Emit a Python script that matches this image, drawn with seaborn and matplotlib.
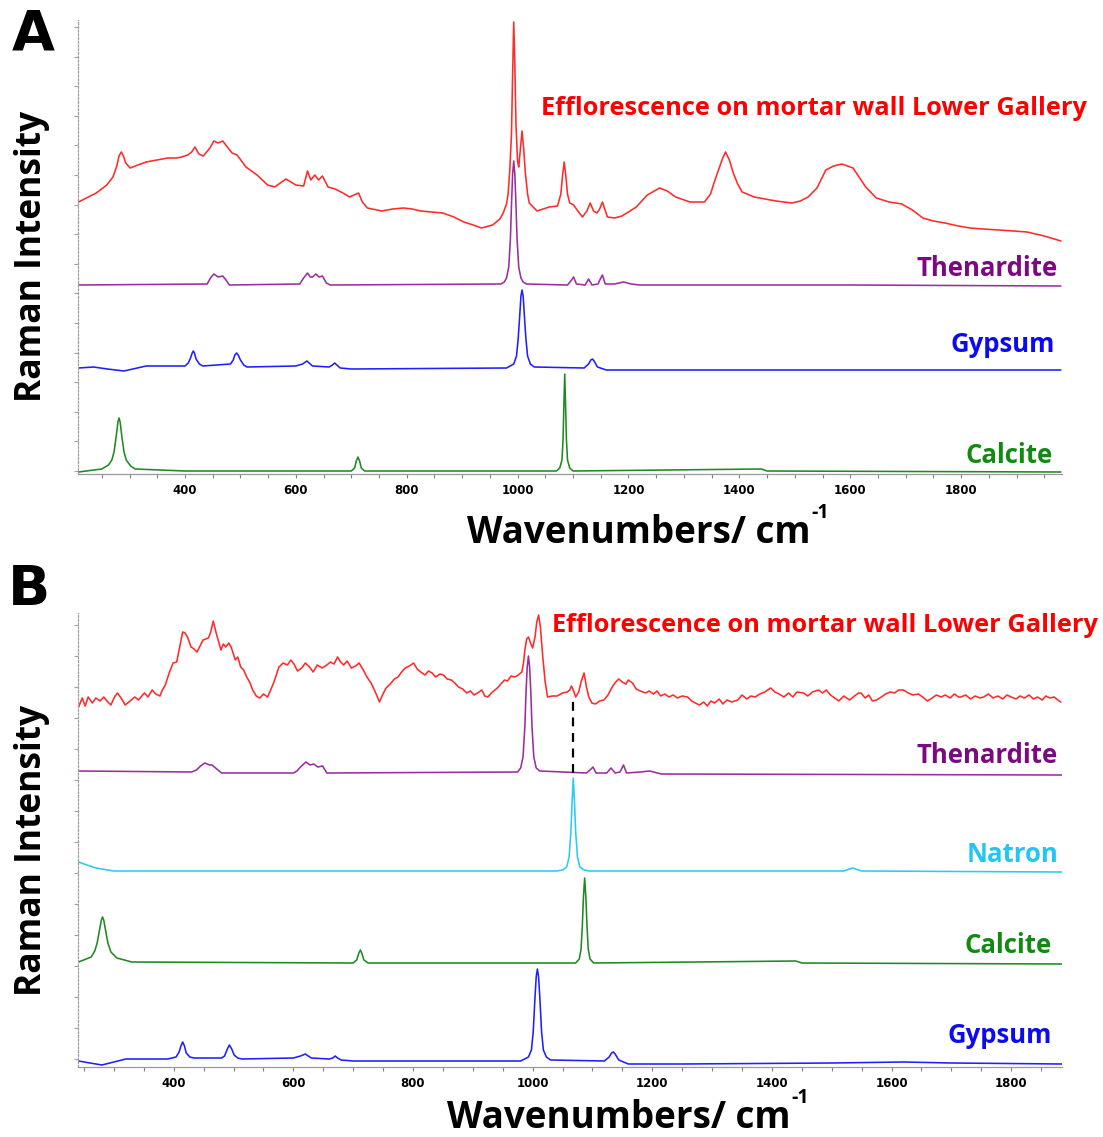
import numpy as np
import pandas as pd
import matplotlib
matplotlib.use("Agg")
import matplotlib.pyplot as plt
from matplotlib.ticker import MultipleLocator, FixedLocator, NullFormatter
import seaborn as sns

# ---------------- DATA (wavenumber in cm-1, intensity in arbitrary units, stacked) -------------
# Panel A
A_RED_X = [208, 240, 259, 270, 277, 281, 285, 289, 293, 301, 315, 330, 350, 369, 385, 394, 405, 412, 418,
           425, 433, 445, 452, 460, 468, 478, 485, 494, 510, 530, 549, 562, 572, 582, 591, 600, 614, 621,
           627, 634, 641, 648, 658, 671, 685, 697, 705, 713, 720, 729, 755, 775, 794, 810, 825, 845, 865,
           885, 903, 920, 935, 955, 968, 974, 980, 983, 986, 989, 991, 993, 995, 997, 1000, 1002, 1005,
           1008, 1011, 1014, 1018, 1021, 1035, 1057, 1072, 1078, 1081, 1084, 1087, 1090, 1094, 1101,
           1110, 1117, 1125, 1131, 1137, 1143, 1148, 1153, 1162, 1175, 1188, 1200, 1214, 1234, 1256,
           1270, 1285, 1311, 1337, 1348, 1356, 1365, 1370, 1375, 1382, 1389, 1397, 1405, 1427, 1446,
           1466, 1495, 1510, 1524, 1540, 1556, 1570, 1585, 1605, 1617, 1628, 1647, 1670, 1693, 1712,
           1731, 1750, 1771, 1795, 1816, 1840, 1868, 1895, 1919, 1950, 1980]
A_RED_Y = [272, 281, 289, 297, 308, 318, 322, 318, 311, 306, 309, 312, 314, 316, 316, 317, 319, 322, 327,
           320, 318, 326, 333, 331, 333, 326, 321, 319, 307, 299, 289, 287, 291, 295, 292, 289, 288, 303,
           294, 299, 294, 298, 287, 285, 281, 277, 279, 281, 272, 266, 263, 265, 266, 265, 263, 262, 261,
           257, 252, 249, 246, 249, 255, 261, 270, 281, 305, 341, 400, 452, 410, 350, 312, 307, 325,
           343, 325, 301, 280, 271, 263, 267, 268, 280, 298, 312, 298, 280, 271, 269,
           262, 257, 263, 271, 263, 261, 265, 272, 257, 256, 258, 262, 267, 279, 286,
           283, 277, 272, 272, 280, 294, 308, 316, 322, 314, 301, 290, 282, 277, 275,
           273, 271, 273, 277, 286, 304, 308, 310, 306, 296, 287, 276, 272, 270, 264,
           256, 253, 251, 248, 246, 245, 244, 243, 242, 238, 233]

A_THEN_X = [208, 440, 446, 452, 460, 468, 474, 480, 607, 614, 621, 626, 630, 636, 642, 648, 655, 662, 970,
            976, 980, 984, 987, 989, 991, 993, 995, 997, 999, 1002, 1006, 1010, 1016, 1090, 1096, 1101,
            1106, 1122, 1128, 1134, 1145, 1150, 1153, 1158, 1175, 1191, 1205, 1220, 1600, 1980]
A_THEN_Y = [189, 190, 196, 200, 197, 198, 194, 189, 190, 196, 201, 197, 197, 200, 197, 198, 191, 189, 190,
            192, 196, 207, 235, 270, 300, 313, 300, 270, 235, 207, 196, 192, 190, 189, 193, 197,
            190, 189, 195, 189, 190, 196, 199, 190, 190, 192, 190, 189, 189, 188]

A_GYP_X = [208, 235, 260, 290, 330, 400, 406, 410, 413, 415, 417, 420, 426, 432, 482, 487, 490, 493, 496,
           500, 506, 512, 600, 612, 620, 630, 660, 666, 670, 674, 680, 700, 980, 993, 998, 1001, 1004,
           1006, 1008, 1010, 1012, 1015, 1018, 1023, 1030, 1120, 1128, 1132, 1135, 1138, 1144, 1160,
           1500, 1980]
A_GYP_Y = [106, 107, 105, 103, 108, 108, 111, 116, 121, 123, 121, 115, 110, 108, 110, 114, 119, 121, 119,
           114, 109, 107, 108, 110, 113, 108, 107, 109, 111, 109, 106, 105, 106, 110, 118, 135, 160,
           178, 184, 178, 160, 135, 118, 110, 107, 106, 110, 114, 115, 113, 107, 104,
           104, 104]

A_CAL_X = [208, 250, 262, 268, 272, 276, 279, 281, 283, 286, 290, 294, 302, 310, 400, 700, 706, 709, 712,
           715, 718, 724, 1070, 1076, 1080, 1082, 1083.5, 1085, 1086.5, 1088, 1090, 1094, 1100, 1440,
           1450, 1980]
A_CAL_Y = [2, 5, 9, 14, 22, 38, 52, 56, 52, 38, 22, 14, 8, 5, 3, 3, 6, 13, 17,
           13, 6, 3, 3, 6, 14, 35, 70, 100, 70, 35, 14, 6, 3, 5,
           3, 2]

# Panel B
B_RED_X = [241, 247, 252, 257, 264, 270, 277, 283, 290, 295, 301, 306, 312, 319, 325, 335, 341, 351, 357,
           364, 370, 377, 381, 386, 393, 399, 405, 410, 415, 419, 423, 429, 434, 439, 444, 449, 458, 462,
           466, 471, 479, 483, 487, 492, 496, 503, 507, 512, 517, 522, 527, 532, 538, 544, 550, 557, 567,
           576, 583, 590, 596, 601, 607, 614, 620, 627, 633, 640, 648, 656, 662, 668, 674, 679, 684, 690,
           697, 704, 710, 717, 723, 730, 737, 744, 749, 755, 762, 769, 775, 781, 787, 794, 801, 807, 813,
           820, 826, 832, 838, 845, 851, 857, 864, 870, 876, 883, 890, 896, 902, 908, 915, 920, 925, 933,
           941, 947, 953, 958, 964, 970, 976, 982, 985, 987, 990, 993, 996, 1000, 1004, 1007, 1010, 1013,
           1017, 1021, 1025, 1033, 1041, 1050, 1058, 1062, 1065, 1068, 1072, 1077, 1081, 1086, 1090, 1094,
           1099, 1105, 1112, 1119, 1126, 1133, 1139, 1144, 1150, 1156, 1160, 1167, 1173, 1180, 1189, 1195,
           1202, 1208, 1214, 1221, 1228, 1235, 1242, 1250, 1259, 1266, 1272, 1279, 1286, 1292, 1298, 1304,
           1312, 1318, 1325, 1333, 1343, 1350, 1358, 1365, 1372, 1380, 1388, 1398, 1405, 1412, 1420, 1428,
           1435, 1442, 1453, 1460, 1468, 1478, 1485, 1491, 1498, 1505, 1512, 1520, 1530, 1538, 1545, 1549,
           1556, 1562, 1568, 1575, 1583, 1590, 1598, 1605, 1612, 1620, 1628, 1636, 1645, 1652, 1660, 1668,
           1675, 1683, 1690, 1698, 1705, 1712, 1716, 1724, 1732, 1740, 1748, 1754, 1762, 1770, 1778, 1786,
           1793, 1800, 1808, 1815, 1822, 1830, 1837, 1844, 1852, 1858, 1865, 1872, 1878, 1883]
B_RED_Y = [360, 369, 361, 370, 364, 369, 366, 370, 365, 362, 370, 374, 369, 362, 365, 370, 367, 374, 370,
           377, 373, 371, 377, 382, 395, 404, 405, 420, 435, 434, 430, 420, 418, 415, 421, 427, 429, 435,
           446, 434, 417, 423, 420, 424, 420, 407, 410, 400, 397, 390, 385, 377, 371, 369, 373, 370, 384,
           400, 404, 402, 407, 403, 396, 399, 404, 400, 395, 402, 399, 402, 405, 403, 410, 405, 402, 406,
           399, 401, 404, 397, 390, 384, 375, 365, 372, 379, 383, 388, 390, 395, 399, 401, 404, 398, 395,
           392, 396, 394, 390, 393, 392, 388, 387, 384, 380, 378, 374, 376, 372, 374, 377, 371, 370, 375,
           379, 383, 387, 386, 391, 390, 392, 395, 405, 417, 428, 430, 425, 419, 430, 445, 452, 440,
           410, 385, 370, 371, 371, 374, 375, 377, 381, 377, 370, 375, 385, 394, 380, 370,
           364, 363, 366, 367, 372, 380, 385, 388, 385, 383, 387, 384, 378, 376, 374, 376,
           373, 376, 371, 373, 370, 372, 369, 371, 370, 366, 364, 362, 365, 361, 366, 364,
           368, 363, 367, 365, 367, 372, 368, 371, 370, 373, 375, 379, 375, 373, 370, 374,
           370, 375, 374, 371, 375, 377, 374, 377, 372, 369, 366, 371, 367, 371, 374, 374,
           369, 372, 366, 367, 370, 373, 375, 374, 377, 377, 374, 372, 373, 370, 366, 369,
           372, 370, 372, 369, 373, 370, 370, 372, 368, 371, 369, 370, 373, 369, 371, 368,
           372, 370, 368, 371, 369, 372, 368, 370, 367, 371, 369, 370, 367, 365]

B_THEN_X = [241, 430, 438, 445, 452, 460, 464, 472, 480, 600, 606, 612, 621, 628, 634, 641, 649, 656, 975,
            980, 984, 987, 989, 991, 993, 995, 997, 999, 1002, 1006, 1012, 1090, 1096, 1101, 1106, 1124,
            1131, 1138, 1146, 1152, 1157, 1180, 1196, 1215, 1885]
B_THEN_Y = [296, 295, 297, 301, 304, 302, 302, 298, 294, 294, 296, 300, 305, 302, 303, 300, 301, 294, 295,
            299, 310, 340, 375, 400, 411, 400, 375, 340, 310, 299, 296, 294, 297, 300, 294, 294,
            299, 294, 295, 302, 294, 295, 296, 293, 292]

B_NAT_X = [241, 250, 260, 270, 280, 300, 320, 500, 1040, 1050, 1057, 1061, 1064, 1066, 1068, 1070, 1072,
           1075, 1079, 1086, 1095, 1520, 1535, 1550, 1885]
B_NAT_Y = [205, 203, 201, 199, 198, 196, 196, 196, 196, 197, 200, 210, 235, 265, 289, 265, 235,
           210, 200, 197, 196, 196, 199, 196, 195]

B_CAL_X = [241, 262, 268, 272, 276, 279, 281, 283, 286, 290, 295, 305, 330, 700, 706, 709, 712, 715, 718,
           725, 1072, 1078, 1081, 1083, 1085, 1087, 1089, 1091, 1093, 1096, 1102, 1440, 1450, 1885]
B_CAL_Y = [105, 110, 116, 124, 137, 147, 150, 147, 137, 124, 115, 109, 105, 104, 107, 113, 117, 113, 107,
           104, 104, 108, 118, 140, 170, 189, 170, 140, 118, 108, 104, 106, 104, 103]

B_GYP_X = [241, 260, 280, 320, 390, 404, 409, 412, 415, 418, 421, 427, 434, 480, 485, 489, 493, 497, 501,
           507, 514, 600, 612, 620, 630, 660, 666, 670, 674, 680, 700, 980, 993, 998, 1001, 1004, 1006,
           1008, 1010, 1012, 1015, 1018, 1023, 1030, 1120, 1128, 1132, 1135, 1138, 1144, 1160, 1250,
           1500, 1620, 1700, 1885]
B_GYP_Y = [6, 4, 2, 8, 8, 10, 15, 21, 25, 21, 14, 10, 9, 9, 11, 17, 22, 18, 12,
           9, 8, 9, 11, 13, 9, 8, 9, 11, 9, 7, 6, 6, 10, 17, 35, 70, 90,
           98, 90, 70, 35, 17, 10, 7, 6, 10, 14, 15, 13, 7, 3, 3,
           4, 5, 4, 3]

B_MARK_X = 1067            # dashed marker (natron band vs efflorescence)
B_MARK_Y = (294, 368)

LABEL_RED = "Efflorescence on mortar wall Lower Gallery"
TICKS = [400, 600, 800, 1000, 1200, 1400, 1600, 1800]

# ---------------- STYLE ----------------
sns.set_theme(style="white")
plt.rcParams['font.family'] = ['Open Sans', 'DejaVu Sans']
plt.rcParams['text.color'] = 'black'
plt.rcParams['xtick.labelcolor'] = 'black'

C_RED, C_RED_T = "#ff2a2a", "#ff0000"
C_THEN, C_THEN_T = "#9a2e9e", "#7b0a82"
C_GYP, C_GYP_T = "#1f1fff", "#0b0bf0"
C_CAL, C_CAL_T = "#1f8a1f", "#118a11"
C_NAT, C_NAT_T = "#2ccaf2", "#22c6f0"

W, H = 1103, 1137
fig = plt.figure(figsize=(W / 100, H / 100), dpi=100)


def ax_rect(left, top, right, bottom):
    return [left / W, 1 - bottom / H, (right - left) / W, (bottom - top) / H]


axA = fig.add_axes(ax_rect(78, 20, 1062, 474))
axB = fig.add_axes(ax_rect(78, 613, 1062, 1067))


def draw(ax, x, y, c):
    sns.lineplot(x=x, y=y, ax=ax, color=c, linewidth=1.15, estimator=None, sort=False)


draw(axA, A_RED_X, A_RED_Y, C_RED)
draw(axA, A_THEN_X, A_THEN_Y, C_THEN)
draw(axA, A_GYP_X, A_GYP_Y, C_GYP)
draw(axA, A_CAL_X, A_CAL_Y, C_CAL)

draw(axB, B_RED_X, B_RED_Y, C_RED)
draw(axB, B_THEN_X, B_THEN_Y, C_THEN)
draw(axB, B_NAT_X, B_NAT_Y, C_NAT)
draw(axB, B_CAL_X, B_CAL_Y, C_CAL)
draw(axB, B_GYP_X, B_GYP_Y, C_GYP)
axB.vlines(B_MARK_X, B_MARK_Y[0], B_MARK_Y[1], colors="black", linestyles=(0, (4, 3)), linewidth=1.6)

tick_font = dict(family=['Liberation Sans Narrow', 'DejaVu Sans'], weight='bold', size=8.5)
for ax, xl, yt in [(axA, (207, 1982), np.arange(3, 454, 29.6)),
                   (axB, (240, 1885), np.arange(8, 454, 31.0))]:
    ax.set_xlim(*xl)
    ax.set_ylim(0, 454)
    ax.set_xlabel("")
    ax.set_ylabel("")
    for s in ['top', 'right']:
        ax.spines[s].set_visible(False)
    ax.spines['bottom'].set_color('#9a9a9a')
    ax.spines['bottom'].set_linewidth(0.9)
    ax.spines['left'].set_color('#a0a0a0')
    ax.spines['left'].set_linewidth(0.9)
    ax.spines['left'].set_linestyle((0, (1.5, 1.5)))
    ax.xaxis.set_major_locator(FixedLocator(TICKS))
    ax.xaxis.set_minor_locator(MultipleLocator(50))
    ax.set_xticklabels([str(t) for t in TICKS], fontdict=tick_font, color='black')
    ax.yaxis.set_major_locator(FixedLocator(yt))
    ax.yaxis.set_major_formatter(NullFormatter())
    ax.tick_params(axis='x', which='both', direction='out', length=3, width=0.8, color='#808080',
                   pad=4, bottom=True)
    ax.tick_params(axis='y', which='both', direction='out', length=3, width=0.8, color='#a0a0a0',
                   left=True)
    ax.set_facecolor('none')

# labels
big = 18.5
red_sz = 18.3
lab = dict(ha='right', va='baseline', fontweight='bold')
axA.text(1.025, 0.791, LABEL_RED, transform=axA.transAxes, color=C_RED_T, fontsize=red_sz, **lab)
axA.text(0.996, 0.436, "Thenardite", transform=axA.transAxes, color=C_THEN_T, fontsize=big, **lab)
axA.text(0.993, 0.269, "Gypsum", transform=axA.transAxes, color=C_GYP_T, fontsize=big, **lab)
axA.text(0.991, 0.024, "Calcite", transform=axA.transAxes, color=C_CAL_T, fontsize=big, **lab)

axB.text(1.036, 0.958, LABEL_RED, transform=axB.transAxes, color=C_RED_T, fontsize=red_sz, **lab)
axB.text(0.996, 0.670, "Thenardite", transform=axB.transAxes, color=C_THEN_T, fontsize=big, **lab)
axB.text(0.996, 0.4515, "Natron", transform=axB.transAxes, color=C_NAT_T, fontsize=big, **lab)
axB.text(0.990, 0.251, "Calcite", transform=axB.transAxes, color=C_CAL_T, fontsize=big, **lab)
axB.text(0.990, 0.053, "Gypsum", transform=axB.transAxes, color=C_GYP_T, fontsize=big, **lab)

# axis titles
renderer = fig.canvas.get_renderer()
for (xl, yl) in [(467, 543), (447, 1128)]:
    t = fig.text(xl / W, 1 - yl / H, "Wavenumbers/ cm", ha='left', va='baseline', fontsize=26.5,
                 fontweight='bold', color='black')
    bb = t.get_window_extent(renderer=renderer)
    fig.text((bb.x1 + 1) / W, 1 - (yl - 25) / H, "-1", ha='left', va='baseline', fontsize=14,
             fontweight='bold', color='black')

ylab_font = dict(family=['Open Sans', 'DejaVu Sans'], weight='bold', size=25.5)
fig.text(32 / W, 1 - 256 / H, "Raman Intensity", rotation=90, ha='center', va='center',
         fontdict=ylab_font, color='black')
fig.text(32 / W, 1 - 850 / H, "Raman Intensity", rotation=90, ha='center', va='center',
         fontdict=ylab_font, color='black')

# panel letters
fig.text(12 / W, 1 - 50 / H, "A", ha='left', va='baseline', fontsize=40, fontweight='heavy',
         family=['DejaVu Sans'], color='black')
fig.text(8 / W, 1 - 605 / H, "B", ha='left', va='baseline', fontsize=40, fontweight='heavy',
         family=['DejaVu Sans'], color='black')

fig.savefig("out.png", dpi=100, facecolor='white')
